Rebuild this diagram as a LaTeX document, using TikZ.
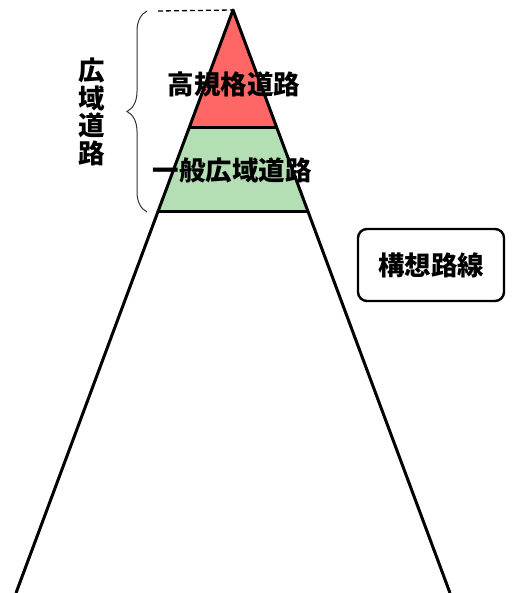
\documentclass[tikz,border=0pt]{standalone}
\usepackage{fontspec}
\setmainfont{Noto Sans CJK JP}
\usetikzlibrary{positioning,decorations.pathreplacing}
\definecolor{koukired}{RGB}{255,102,102}
\definecolor{ippangreen}{RGB}{180,222,180}

\begin{document}
\begin{tikzpicture}[x=1pt,y=-1pt,font=\fontsize{26.5}{27.5}\selectfont\bfseries,
 edge/.style={line width=3pt,line join=round},
 label/.style={inner sep=0pt,align=center},
 plan/.style={draw,line width=2.4pt,rounded corners=9pt,minimum width=146pt,minimum height=72pt,inner sep=0pt}]
\useasboundingbox (0,0) rectangle (513,593);
% pyramid corners
\coordinate (top) at (233,10);
\coordinate (kl) at (189.1,128); \coordinate (kr) at (276.9,128);
\coordinate (il) at (157.8,212); \coordinate (ir) at (308.2,212);
\coordinate (bl) at (16,593); \coordinate (br) at (450,593);
\fill[koukired] (top)--(kr)--(kl)--cycle;
\fill[ippangreen] (kl)--(kr)--(ir)--(il)--cycle;
\draw[edge] (bl)--(top)--(br);
\draw[edge] (kl)--(kr); \draw[edge] (il)--(ir);
% brace
\coordinate (dash) at (158,11);
\draw[line width=1.3pt,dash pattern=on 5pt off 3pt] (dash)--(top);
\coordinate (bracetop) at (147,11); \coordinate (bracebot) at (147,212);
\draw[line width=1pt,draw=black!80,decorate,decoration={brace,amplitude=20pt}] (bracebot)--(bracetop);
\node[label] (kouiki) at (92,112) {広\\域\\道\\路};
\node[label] (kouki) at (234,84) {高規格道路};
\node[label] (ippan) at (232,170) {一般広域道路};
\node[plan] (kousou) at (431,265) {構想路線};
\end{tikzpicture}
\end{document}
